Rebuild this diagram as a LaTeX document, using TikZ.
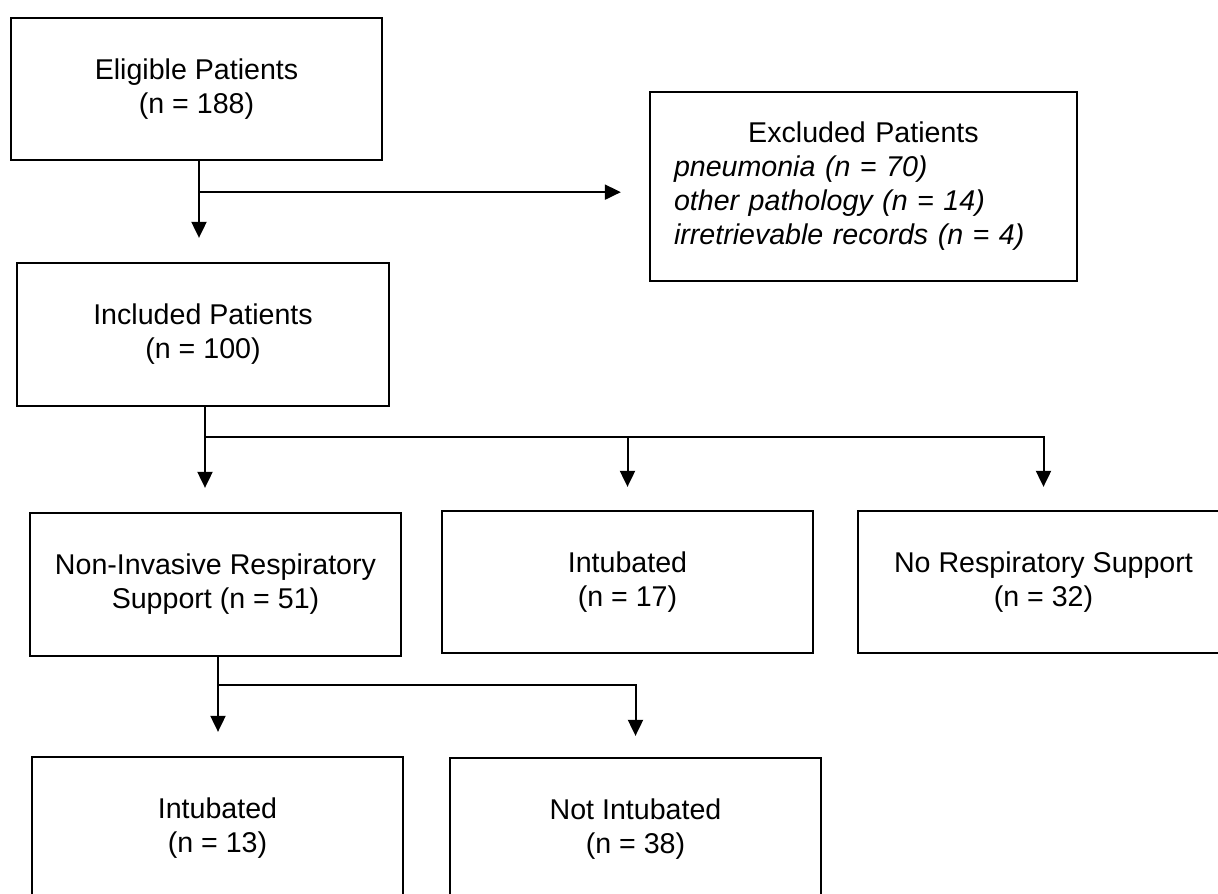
\documentclass[tikz,border=0pt]{standalone}
\usepackage{fontspec}
\setmainfont{Liberation Sans}
\usetikzlibrary{arrows.meta,calc}
\begin{document}
\begin{tikzpicture}[x=1pt,y=-1pt,
  box/.style={draw=black, line width=2.3pt, inner sep=0pt, align=center,
    minimum width=371pt, minimum height=142pt,
    font=\fontsize{28.6}{34}\selectfont},
  conn/.style={line width=2pt},
  arr/.style={conn, -{Triangle[width=15pt,length=16pt]}},
]
\useasboundingbox (0,0) rectangle (1218,894);
\fill[white] (0,0) rectangle (1218,894);
\clip (0,0) rectangle (1218,894);

\node[box] (elig) at (196.5,89) {Eligible Patients\\(n = 188)};
\node[box, minimum width=427pt, minimum height=189pt, text width=379pt, align=left] (excl) at (863.5,186.5)
  {\makebox[379pt][c]{Excluded Patients}\\\textit{pneumonia (n = 70)}\\\textit{other pathology (n = 14)}\\\textit{irretrievable records (n = 4)}};
\node[box, minimum width=372pt, minimum height=143pt] (incl) at (203,334.5) {Included Patients\\(n = 100)};
\node[box, minimum height=143pt] (nirs) at (215.5,584.5) {Non-Invasive Respiratory\\Support (n = 51)};
\node[box] (intub) at (627.5,582) {Intubated\\(n = 17)};
\node[box] (norsp) at (1043.5,582) {No Respiratory Support\\(n = 32)};
\node[box] (intb) at (217.5,828) {Intubated\\(n = 13)};
\node[box] (notint) at (635.5,829) {Not Intubated\\(n = 38)};

% Eligible -> Included / Excluded
\coordinate (j1) at ([xshift=2.5pt, yshift=-31pt]elig.south);
\draw[arr, shorten >=24pt] ([xshift=2.5pt]elig.south) -- ([xshift=2.5pt]elig.south |- incl.north);
\draw[arr, shorten >=28pt] (j1) -- (j1 -| excl.west);

% Included -> three groups
\coordinate (j2) at ([xshift=2pt, yshift=-30pt]incl.south);
\draw[arr, shorten >=24pt] ([xshift=2pt]incl.south) -- ([xshift=2pt]incl.south |- nirs.north);
\draw[arr, shorten >=23pt] (j2) -- (j2 -| norsp.north) -- (norsp.north);
\draw[arr, shorten >=23pt] (j2 -| intub.north) -- (intub.north);

% NIRS -> outcomes
\coordinate (j3) at ([xshift=2.5pt, yshift=-28pt]nirs.south);
\draw[arr, shorten >=24pt] ([xshift=2.5pt]nirs.south) -- ([xshift=2.5pt]nirs.south |- intb.north);
\draw[arr, shorten >=21pt] (j3) -- (j3 -| notint.north) -- (notint.north);
\end{tikzpicture}
\end{document}
